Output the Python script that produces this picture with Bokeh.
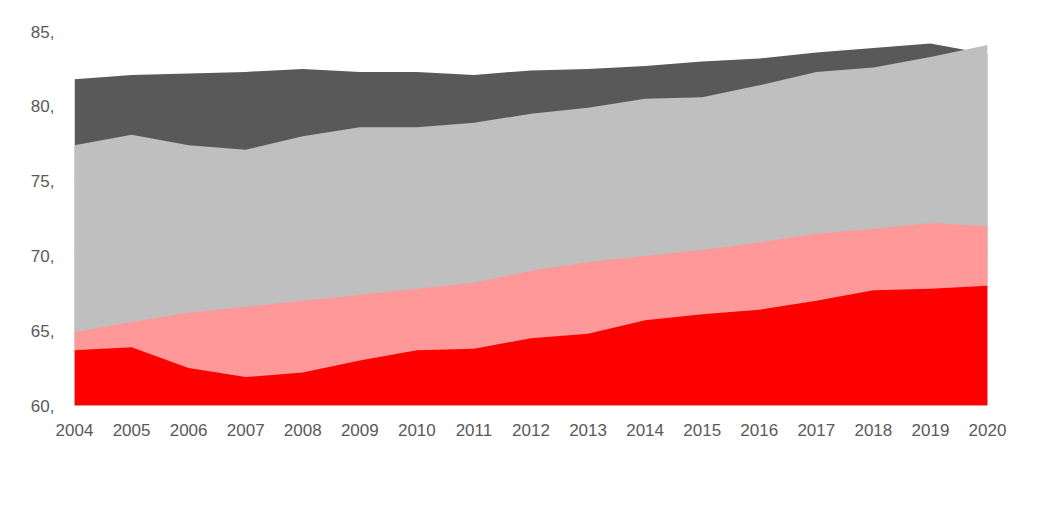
from bokeh.plotting import figure
from bokeh.models import Legend, FixedTicker, Range1d
from bokeh.embed import file_html
from bokeh.resources import INLINE

years = list(range(2004, 2021))
men_eu27 = [81.8, 82.1, 82.2, 82.3, 82.5, 82.3, 82.3, 82.1, 82.4, 82.5, 82.7, 83.0, 83.2, 83.6, 83.9, 84.2, 83.5]
men_pl = [77.4, 78.1, 77.4, 77.1, 78.0, 78.6, 78.6, 78.9, 79.5, 79.9, 80.5, 80.6, 81.4, 82.3, 82.6, 83.3, 84.1]
women_eu27 = [64.9, 65.6, 66.2, 66.6, 67.0, 67.4, 67.8, 68.2, 69.0, 69.6, 70.0, 70.4, 70.9, 71.5, 71.8, 72.2, 72.0]
women_pl = [63.7, 63.9, 62.5, 61.9, 62.2, 63.0, 63.7, 63.8, 64.5, 64.8, 65.7, 66.1, 66.4, 67.0, 67.7, 67.8, 68.0]
y_ticks = [60, 65, 70, 75, 80, 85]
series = [("Mężczyźni EU27", men_eu27, "#595959"),
          ("Mężczyźni Polska", men_pl, "#bfbfbf"),
          ("Kobiety EU27", women_eu27, "#ff9999"),
          ("Kobiety Polska", women_pl, "#ff0000")]

p = figure(frame_width=913, frame_height=374, output_backend="svg", toolbar_location=None,
           x_range=Range1d(2004, 2020), y_range=Range1d(60, 85),
           min_border_left=74, min_border_right=43, min_border_top=31, min_border_bottom=0)
p.outline_line_color = None
items = []
for name, vals, col in series:
    r = p.varea(x=years, y1=[60] * len(years), y2=vals, fill_color=col)
    items.append((name, [r]))

font = "Liberation Sans"
p.xaxis.ticker = FixedTicker(ticks=years)
p.yaxis.ticker = FixedTicker(ticks=y_ticks)
p.yaxis.major_label_overrides = {t: f"{t}," for t in y_ticks}
for ax in (p.xaxis, p.yaxis):
    ax.axis_line_color = None
    ax.major_tick_line_color = None
    ax.minor_tick_line_color = None
    ax.major_label_text_font = font
    ax.major_label_text_font_size = "17px"
    ax.major_label_text_color = "#595959"
p.xgrid.grid_line_color = None
p.ygrid.grid_line_color = "#d9d9d9"
p.xaxis.major_label_standoff = 12
p.yaxis.major_label_standoff = 14

legend = Legend(items=items, orientation="horizontal", location="center",
                label_text_font=font, label_text_font_size="17px", label_text_color="#595959",
                glyph_width=14, glyph_height=14, spacing=30, border_line_color=None,
                margin=18, padding=5)
p.add_layout(legend, "below")

open("out.html", "w").write(file_html(p, INLINE))
